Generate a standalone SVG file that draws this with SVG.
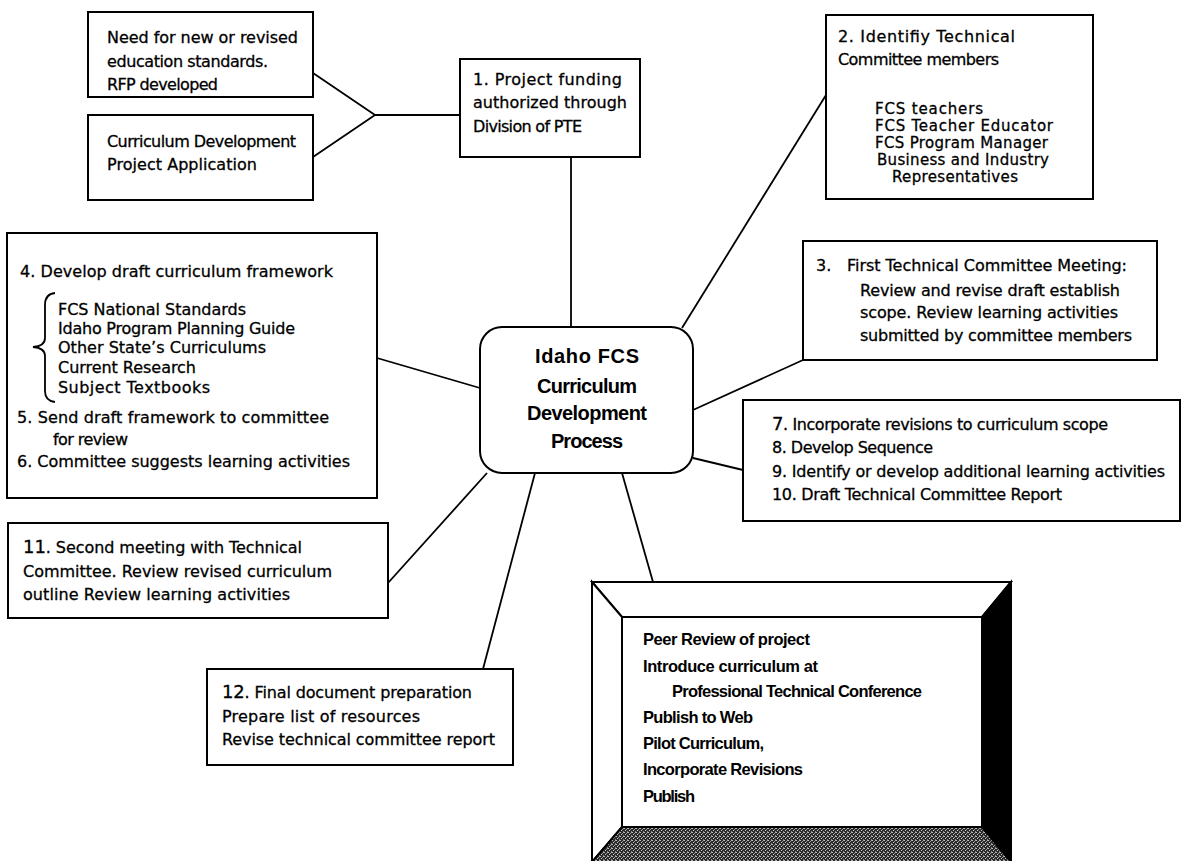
<svg xmlns="http://www.w3.org/2000/svg" width="1183" height="861" viewBox="0 0 1183 861">
<defs>
<style>
.box{fill:#fff;stroke:#000;stroke-width:2}
.t{font-family:"DejaVu Sans",Verdana,sans-serif;font-size:16px;fill:#000;stroke:#000;stroke-width:0.3}
.s{font-size:15px}
.b{font-family:"Liberation Sans",Arial,sans-serif;font-weight:bold;font-size:16.5px;fill:#000}
.c{font-family:"Liberation Sans",Arial,sans-serif;font-weight:bold;font-size:20px;fill:#000;text-anchor:middle}
.ln{stroke:#000;stroke-width:1.8;fill:none}
</style>
<pattern id="dith" width="4" height="4" patternUnits="userSpaceOnUse">
<rect width="4" height="4" fill="#2a2a2a"/>
<rect x="0" y="0" width="1" height="1" fill="#bbb"/>
<rect x="2" y="1" width="1" height="1" fill="#999"/>
<rect x="1" y="2" width="1" height="1" fill="#ccc"/>
<rect x="3" y="3" width="1" height="1" fill="#888"/>
<rect x="3" y="0" width="1" height="1" fill="#aaa"/>
</pattern>
</defs>
<rect width="1183" height="861" fill="#fff"/>

<g id="connectors" class="ln">
<polyline points="313,73 375,115 313,157"/>
<line x1="375" y1="115" x2="460" y2="115"/>
<line x1="571" y1="157" x2="571" y2="327"/>
<line x1="826" y1="95" x2="682" y2="328"/>
<line x1="803" y1="360" x2="693" y2="410"/>
<line x1="377" y1="358" x2="480" y2="388"/>
<line x1="693" y1="458" x2="743" y2="470"/>
<line x1="487" y1="473" x2="388" y2="583"/>
<line x1="535" y1="473" x2="483" y2="669"/>
<line x1="622" y1="473" x2="653" y2="582"/>
</g>

<g id="needBox">
<rect class="box" x="88" y="12" width="225" height="85"/>
<text class="t" x="107" y="43" textLength="191">Need for new or revised</text>
<text class="t" x="107" y="67" textLength="161">education standards.</text>
<text class="t" x="107" y="90" textLength="111">RFP developed</text>
</g>

<g id="applicationBox">
<rect class="box" x="88" y="115" width="225" height="85"/>
<text class="t" x="107" y="147" textLength="189">Curriculum Development</text>
<text class="t" x="107" y="170" textLength="150">Project Application</text>
</g>

<g id="step1">
<rect class="box" x="460" y="59" width="180" height="98"/>
<text class="t" x="473" y="85" textLength="149">1.  Project funding</text>
<text class="t" x="473" y="108" textLength="154">authorized through</text>
<text class="t" x="473" y="132" textLength="109">Division of PTE</text>
</g>

<g id="step2">
<rect class="box" x="826" y="15" width="267" height="184"/>
<text class="t" x="838" y="42" textLength="177">2. Identifiy Technical</text>
<text class="t" x="838" y="65" textLength="161">Committee members</text>
<text class="t s" x="875" y="114" textLength="108">FCS teachers</text>
<text class="t s" x="875" y="131" textLength="178">FCS Teacher Educator</text>
<text class="t s" x="875" y="148" textLength="173">FCS Program Manager</text>
<text class="t s" x="877" y="165" textLength="172">Business and Industry</text>
<text class="t s" x="892" y="182" textLength="126">Representatives</text>
</g>

<g id="step3">
<rect class="box" x="803" y="241" width="354" height="119"/>
<text class="t" x="816" y="271" font-size="19">3.</text>
<text class="t" x="847" y="271" textLength="280">First Technical Committee Meeting:</text>
<text class="t" x="860" y="296" textLength="260">Review and revise draft establish</text>
<text class="t" x="860" y="318" textLength="258">scope.  Review learning activities</text>
<text class="t" x="860" y="341" textLength="272">submitted by committee members</text>
</g>

<g id="steps4to6">
<rect class="box" x="7" y="233" width="370" height="265"/>
<text class="t" x="20" y="277" textLength="313">4.  Develop draft curriculum framework</text>
<path class="ln" d="M55,293 Q45,294 45,305 L45,338 Q45,346 33,347 Q45,348 45,356 L45,391 Q45,401 55,402" stroke-width="1.5"/>
<text class="t" x="58" y="315" textLength="188">FCS National Standards</text>
<text class="t" x="58" y="334" textLength="237">Idaho Program Planning  Guide</text>
<text class="t" x="58" y="353" textLength="208">Other State’s Curriculums</text>
<text class="t" x="58" y="373" textLength="138">Current Research</text>
<text class="t" x="58" y="393" textLength="152">Subject Textbooks</text>
<text class="t" x="17" y="423" textLength="312">5.  Send draft framework to committee</text>
<text class="t" x="53" y="445" textLength="75">for review</text>
<text class="t" x="17" y="467" textLength="333">6.  Committee suggests learning activities</text>
</g>

<g id="center">
<rect class="box" x="480" y="327" width="213" height="146" rx="22" ry="22"/>
<text class="c" x="587" y="363" textLength="104">Idaho FCS</text>
<text class="c" x="587" y="393" textLength="100">Curriculum</text>
<text class="c" x="587" y="420" textLength="120">Development</text>
<text class="c" x="587" y="448" textLength="72">Process</text>
</g>

<g id="steps7to10">
<rect class="box" x="743" y="400" width="437" height="121"/>
<text class="t" x="772" y="430" textLength="336"><tspan font-size="18">7</tspan>.  Incorporate revisions to curriculum scope</text>
<text class="t" x="772" y="453" textLength="161">8.    Develop Sequence</text>
<text class="t" x="772" y="477" textLength="393">9.   Identify or develop additional learning activities</text>
<text class="t" x="772" y="500" textLength="290">10.  Draft Technical Committee Report</text>
</g>

<g id="step11">
<rect class="box" x="8" y="523" width="380" height="95"/>
<text class="t" x="23" y="553" textLength="279"><tspan font-size="18">11</tspan>.  Second meeting with Technical</text>
<text class="t" x="23" y="577" textLength="309">Committee.   Review revised curriculum</text>
<text class="t" x="23" y="600" textLength="267">outline   Review learning activities</text>
</g>

<g id="step12">
<rect class="box" x="207" y="669" width="306" height="96"/>
<text class="t" x="222" y="698" textLength="250"><tspan font-size="18">12</tspan>.  Final document preparation</text>
<text class="t" x="222" y="722" textLength="198">Prepare list of resources</text>
<text class="t" x="222" y="745" textLength="273">Revise technical committee report</text>
</g>

<g id="finalSteps">
<polygon points="592,582 1011,582 982,617 622,617" fill="#fff" stroke="#000" stroke-width="2"/>
<polygon points="592,582 622,617 622,827 592,862" fill="#fff" stroke="#000" stroke-width="2"/>
<polygon points="1011,582 1011,862 982,827 982,617" fill="#000" stroke="#000" stroke-width="2"/>
<polygon points="592,862 622,827 982,827 1011,862" fill="url(#dith)" stroke="#000" stroke-width="2"/>
<rect x="622" y="617" width="360" height="210" fill="#fff" stroke="#000" stroke-width="2"/>
<text class="b" x="643" y="645" textLength="167">Peer Review of project</text>
<text class="b" x="643" y="672" textLength="175">Introduce curriculum at</text>
<text class="b" x="672" y="697" textLength="250">Professional Technical Conference</text>
<text class="b" x="643" y="723" textLength="110">Publish to Web</text>
<text class="b" x="643" y="749" textLength="121">Pilot Curriculum,</text>
<text class="b" x="643" y="775" textLength="160">Incorporate Revisions</text>
<text class="b" x="643" y="802" textLength="52">Publish</text>
</g>
</svg>
